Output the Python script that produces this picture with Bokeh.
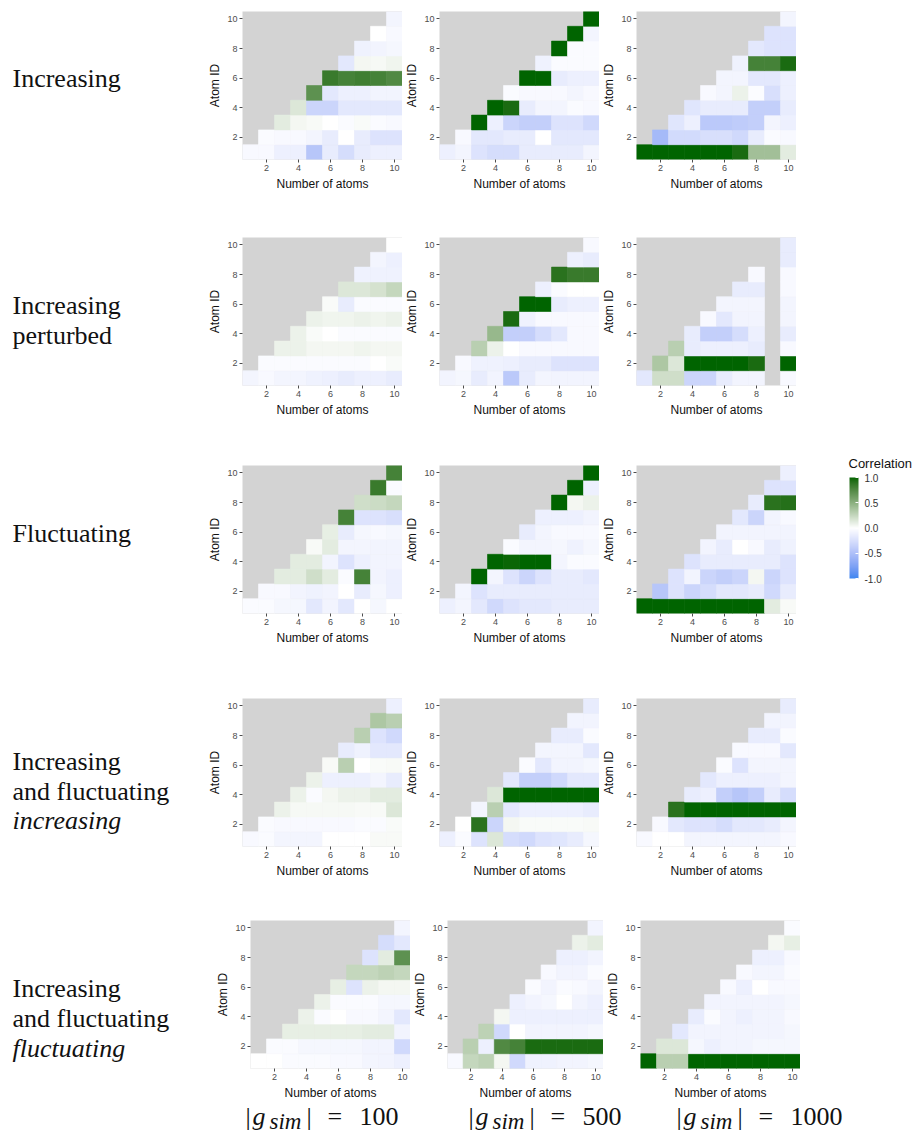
import numpy as np
from bokeh.plotting import figure
from bokeh.models import (Range1d, FixedTicker, LinearColorMapper, ColorBar,
                          PrintfTickFormatter, ColumnDataSource)
from bokeh.layouts import row, column
from bokeh.transform import transform
from bokeh.core.properties import value
from bokeh.embed import file_html
from bokeh.resources import INLINE

# ---------------- data ----------------
TICKS = [2, 4, 6, 8, 10]
X_LABEL = "Number of atoms"
Y_LABEL = "Atom ID"
SIM_SIZES = ["100", "500", "1000"]
ROW_TITLES = [
    [("Increasing", "normal")],
    [("Increasing", "normal"), ("perturbed", "normal")],
    [("Fluctuating", "normal")],
    [("Increasing", "normal"), ("and fluctuating", "normal"), ("increasing", "italic")],
    [("Increasing", "normal"), ("and fluctuating", "normal"), ("fluctuating", "italic")],
]
LEGEND_TITLE = "Correlation"
LEGEND_TICKS = [-1.0, -0.5, 0.0, 0.5, 1.0]

# each panel: list of rows, row k (Atom ID = k) holds values for Number of atoms = k..10
INC_100 = [
    [-0.05, -0.05, -0.12, -0.12, -0.45, -0.15, -0.27, -0.15, -0.12, -0.12],
    [-0.03, -0.05, -0.05, -0.08, -0.15, 0.00, -0.15, -0.22, -0.22],
    [0.12, 0.05, 0.03, 0.00, -0.03, 0.02, -0.03, -0.05],
    [0.15, -0.33, -0.33, -0.18, -0.18, -0.18, -0.18],
    [0.70, -0.18, -0.12, -0.12, -0.09, -0.09],
    [0.85, 0.80, 0.82, 0.80, 0.75],
    [-0.18, 0.05, 0.04, 0.06],
    [-0.10, -0.09, -0.06],
    [0.00, -0.05],
    [-0.08],
]
INC_500 = [
    [-0.12, -0.08, -0.22, -0.27, -0.27, -0.15, -0.15, -0.15, -0.15, -0.08],
    [-0.05, -0.18, -0.18, -0.15, -0.15, 0.00, -0.18, -0.18, -0.18],
    [1.00, -0.12, -0.33, -0.38, -0.38, -0.22, -0.22, -0.30],
    [1.00, 0.95, -0.15, -0.08, -0.08, -0.03, -0.05],
    [-0.03, -0.05, -0.05, -0.05, -0.08, -0.05],
    [1.00, 1.00, -0.15, -0.12, -0.12],
    [-0.10, -0.03, -0.03, -0.03],
    [1.00, -0.03, -0.03],
    [1.00, -0.08],
    [1.00],
]
INC_1000 = [
    [1.00, 1.00, 1.00, 1.00, 1.00, 1.00, 0.95, 0.40, 0.40, 0.12],
    [-0.55, -0.28, -0.28, -0.25, -0.25, -0.30, -0.15, -0.03, -0.05],
    [-0.20, -0.12, -0.42, -0.42, -0.40, -0.38, -0.08, -0.12],
    [-0.20, -0.15, -0.15, -0.15, -0.38, -0.38, -0.15],
    [-0.05, -0.08, 0.08, -0.02, -0.25, -0.12],
    [-0.08, -0.08, -0.18, -0.18, -0.12],
    [-0.10, 0.80, 0.80, 0.95],
    [-0.18, -0.22, -0.22],
    [-0.22, -0.22],
    [-0.08],
]
PERT_100 = [
    [-0.08, -0.05, -0.08, -0.08, -0.10, -0.12, -0.15, -0.12, -0.12, -0.15],
    [-0.03, -0.03, -0.03, -0.03, -0.03, -0.03, -0.03, 0.00, 0.02],
    [0.08, 0.08, 0.05, 0.05, 0.05, 0.06, 0.05, 0.05],
    [0.08, 0.02, 0.00, -0.03, -0.03, -0.03, -0.03],
    [0.08, 0.06, 0.06, 0.08, 0.06, 0.08],
    [0.02, -0.15, -0.03, -0.03, -0.03],
    [0.15, 0.15, 0.18, 0.25],
    [-0.10, -0.10, -0.10],
    [-0.08, -0.12],
    [0.00],
]
PERT_500 = [
    [-0.09, -0.06, -0.15, -0.09, -0.42, -0.15, -0.08, -0.09, -0.09, -0.09],
    [-0.05, -0.10, -0.10, -0.12, -0.15, -0.15, -0.22, -0.22, -0.22],
    [0.30, 0.08, 0.00, -0.05, -0.05, -0.05, -0.05, -0.05],
    [0.45, -0.38, -0.38, -0.27, -0.18, -0.05, -0.05],
    [0.95, -0.10, -0.05, -0.05, -0.05, -0.05],
    [1.00, 1.00, -0.15, -0.12, -0.12],
    [-0.12, -0.03, 0.00, 0.00],
    [0.90, 0.85, 0.85],
    [-0.12, -0.15],
    [-0.05],
]
PERT_1000 = [
    [-0.18, 0.20, 0.20, -0.33, -0.33, -0.15, -0.09, -0.09, None, -0.05],
    [0.35, 0.15, 1.00, 1.00, 1.00, 1.00, 0.95, None, 1.00],
    [0.30, -0.15, -0.12, -0.12, -0.12, -0.15, None, -0.05],
    [-0.15, -0.38, -0.38, -0.27, -0.12, None, -0.15],
    [-0.05, -0.18, -0.09, -0.09, None, -0.08],
    [-0.08, -0.08, -0.08, None, -0.08],
    [-0.15, -0.15, None, -0.05],
    [-0.05, None, -0.05],
    [None, -0.15],
    [-0.15],
]
FLUC_100 = [
    [-0.03, -0.03, -0.06, -0.06, -0.18, -0.09, -0.18, 0.00, -0.06, 0.00],
    [-0.05, -0.05, -0.09, -0.10, -0.09, 0.00, -0.15, -0.06, -0.12],
    [0.12, 0.12, 0.20, 0.12, -0.03, 0.80, -0.09, -0.12],
    [0.12, 0.12, -0.09, -0.22, -0.12, -0.09, -0.09],
    [0.03, 0.12, -0.08, -0.08, -0.09, -0.09],
    [0.10, -0.15, -0.06, -0.05, -0.06],
    [0.80, -0.22, -0.22, -0.25],
    [0.20, 0.22, 0.25],
    [0.85, -0.03],
    [0.80],
]
FLUC_500 = [
    [-0.12, -0.08, -0.18, -0.30, -0.22, -0.18, -0.18, -0.15, -0.15, -0.15],
    [-0.08, -0.22, -0.15, -0.15, -0.15, -0.15, -0.15, -0.15, -0.15],
    [1.00, -0.08, -0.22, -0.33, -0.22, -0.15, -0.15, -0.18],
    [1.00, 0.98, 1.00, 1.00, -0.08, -0.03, -0.03],
    [-0.03, -0.08, -0.08, -0.06, -0.10, -0.06],
    [-0.15, -0.08, -0.05, -0.05, -0.05],
    [-0.12, -0.12, -0.12, -0.09],
    [1.00, 0.05, 0.08],
    [1.00, -0.12],
    [1.00],
]
FLUC_1000 = [
    [1.00, 1.00, 1.00, 1.00, 1.00, 1.00, 1.00, 1.00, 0.12, 0.03],
    [-0.45, -0.22, -0.33, -0.27, -0.18, -0.18, -0.15, -0.30, -0.15],
    [-0.22, -0.09, -0.33, -0.38, -0.33, 0.05, -0.33, -0.22],
    [-0.22, -0.15, -0.15, -0.15, -0.15, -0.15, -0.22],
    [-0.09, -0.15, 0.00, -0.05, -0.15, -0.10],
    [-0.09, -0.09, -0.09, -0.09, -0.09],
    [-0.18, -0.33, -0.09, -0.05],
    [-0.15, 0.90, 0.92],
    [-0.22, -0.22],
    [-0.12],
]
IFI_100 = [
    [-0.05, -0.03, -0.08, -0.08, -0.08, 0.00, 0.00, 0.00, 0.03, 0.03],
    [-0.03, -0.05, -0.05, -0.05, -0.05, -0.05, -0.03, -0.03, 0.02],
    [0.08, 0.04, 0.04, 0.04, 0.04, 0.03, 0.03, 0.15],
    [0.08, -0.03, 0.05, 0.08, 0.08, 0.12, 0.12],
    [0.08, -0.12, -0.12, -0.12, -0.08, -0.15],
    [0.03, 0.30, 0.00, 0.02, 0.03],
    [-0.15, -0.10, -0.18, -0.18],
    [0.30, -0.22, -0.30],
    [0.35, 0.30],
    [-0.12],
]
IFI_500 = [
    [-0.12, -0.03, -0.22, 0.15, -0.27, -0.30, -0.22, -0.20, -0.15, -0.06],
    [0.00, 0.90, -0.33, 0.05, 0.02, 0.02, 0.02, 0.02, 0.03],
    [-0.08, 0.30, -0.18, -0.12, -0.12, -0.12, -0.12, -0.15],
    [0.15, 1.00, 1.00, 1.00, 1.00, 1.00, 1.00],
    [-0.18, -0.38, -0.38, -0.30, -0.18, -0.18],
    [-0.03, -0.18, -0.09, -0.09, -0.06],
    [-0.08, -0.08, -0.08, -0.18],
    [-0.15, -0.15, -0.03],
    [-0.09, -0.09],
    [-0.15],
]
IFI_1000 = [
    [-0.05, 0.00, 0.00, -0.08, -0.08, -0.08, -0.08, -0.08, -0.08, -0.05],
    [-0.05, -0.18, -0.22, -0.22, -0.27, -0.18, -0.18, -0.15, -0.08],
    [0.90, 1.00, 1.00, 1.00, 1.00, 1.00, 1.00, 1.00],
    [-0.15, -0.12, -0.38, -0.45, -0.38, -0.15, -0.27],
    [-0.18, -0.12, -0.12, -0.12, -0.12, -0.08],
    [-0.03, -0.22, -0.08, -0.08, -0.08],
    [-0.05, -0.05, -0.05, -0.18],
    [-0.15, -0.15, -0.03],
    [-0.09, -0.09],
    [-0.15],
]
IFF_100 = [
    [0.00, 0.00, -0.03, -0.03, -0.03, -0.05, -0.05, -0.08, -0.09, -0.12],
    [-0.03, -0.03, -0.06, -0.06, -0.06, -0.06, -0.09, -0.09, -0.30],
    [0.10, 0.10, 0.10, 0.10, 0.10, 0.12, 0.12, -0.09],
    [0.08, -0.03, 0.00, -0.05, -0.05, -0.08, -0.18],
    [0.08, -0.03, -0.03, -0.03, -0.06, -0.06],
    [0.10, -0.22, 0.08, 0.05, 0.05],
    [0.25, 0.25, 0.28, 0.25],
    [-0.22, 0.12, 0.70],
    [-0.27, -0.18],
    [-0.08],
]
IFF_500 = [
    [-0.05, 0.25, 0.28, 0.05, -0.30, -0.10, -0.10, -0.09, -0.09, -0.06],
    [0.30, -0.12, 0.75, 0.80, 0.95, 0.95, 0.95, 0.95, 0.95],
    [0.28, -0.30, 0.00, -0.09, -0.09, -0.09, -0.09, -0.06],
    [0.05, -0.12, -0.12, -0.12, -0.12, -0.12, -0.12],
    [-0.12, -0.09, -0.06, 0.00, -0.09, -0.12],
    [-0.03, -0.09, -0.03, -0.05, -0.08],
    [-0.05, -0.09, -0.09, -0.03],
    [-0.12, -0.12, -0.09],
    [0.08, 0.12],
    [-0.09],
]
IFF_1000 = [
    [1.00, 0.30, 0.30, 1.00, 1.00, 1.00, 1.00, 1.00, 1.00, 1.00],
    [0.15, 0.15, -0.06, -0.12, -0.09, -0.09, -0.06, -0.06, -0.06],
    [-0.18, -0.09, -0.09, -0.09, -0.09, -0.09, -0.09, -0.06],
    [-0.15, -0.03, -0.09, -0.12, -0.09, -0.09, -0.05],
    [-0.09, -0.09, -0.09, -0.09, -0.09, -0.06],
    [-0.05, -0.12, 0.00, -0.05, -0.05],
    [-0.05, -0.08, -0.08, -0.03],
    [-0.12, -0.12, -0.05],
    [0.05, 0.10],
    [-0.03],
]
PANELS = [
    [INC_100, INC_500, INC_1000],
    [PERT_100, PERT_500, PERT_1000],
    [FLUC_100, FLUC_500, FLUC_1000],
    [IFI_100, IFI_500, IFI_1000],
    [IFF_100, IFF_500, IFF_1000],
]

# ---------------- styling ----------------
LOW_COL, MID_COL, HIGH_COL = "#3d86f0", "#ffffff", "#006400"
NA_COL = "#d3d3d3"
SANS = "Liberation Sans"
SERIF = "Liberation Serif"
INK = "#111111"


def _hex_to_lab(h):
    h = h.lstrip("#")
    rgb = [int(h[i:i + 2], 16) / 255 for i in (0, 2, 4)]
    r, g, b = [c / 12.92 if c <= 0.04045 else ((c + 0.055) / 1.055) ** 2.4 for c in rgb]
    X = (0.4124564 * r + 0.3575761 * g + 0.1804375 * b) / 0.95047
    Y = (0.2126729 * r + 0.7151522 * g + 0.0721750 * b)
    Z = (0.0193339 * r + 0.1191920 * g + 0.9503041 * b) / 1.08883
    f = lambda t: t ** (1 / 3) if t > 0.008856 else 7.787 * t + 16 / 116
    fx, fy, fz = f(X), f(Y), f(Z)
    return (116 * fy - 16, 500 * (fx - fy), 200 * (fy - fz))


def _lab_to_hex(L, a, b):
    fy = (L + 16) / 116
    fx = fy + a / 500
    fz = fy - b / 200
    finv = lambda t: t ** 3 if t ** 3 > 0.008856 else (t - 16 / 116) / 7.787
    X, Y, Z = finv(fx) * 0.95047, finv(fy), finv(fz) * 1.08883
    r = 3.2404542 * X - 1.5371385 * Y - 0.4985314 * Z
    g = -0.9692660 * X + 1.8760108 * Y + 0.0415560 * Z
    bl = 0.0556434 * X - 0.2040259 * Y + 1.0572252 * Z

    def enc(c):
        c = max(0.0, min(1.0, c))
        c = 12.92 * c if c <= 0.0031308 else 1.055 * c ** (1 / 2.4) - 0.055
        return int(round(max(0.0, min(1.0, c)) * 255))
    return "#%02x%02x%02x" % (enc(r), enc(g), enc(bl))


lab_lo, lab_mid, lab_hi = _hex_to_lab(LOW_COL), _hex_to_lab(MID_COL), _hex_to_lab(HIGH_COL)
palette = []
for t in np.linspace(-1, 1, 255):
    end = lab_lo if t < 0 else lab_hi
    s = abs(t)
    palette.append(_lab_to_hex(*[m + (e - m) * s for m, e in zip(lab_mid, end)]))
mapper = LinearColorMapper(palette=palette, low=-1, high=1)

PAGE_H = 1134
FRAME_H = 148
ROW_TOPS = [11, 38, 40, 45, 34]
ROW_BOTTOMS = [40, 40, 40, 40, 35]
COL_LEFTS = [[37, 37, 37]] * 4 + [[45, 37, 37]]
COL_WIDTHS = [[160, 160, 160]] * 4 + [[160, 156, 160]]
LEFT_W = 205
MID_W = 595
LEG_W = 114


def make_panel(vals, left, fw, top, bottom):
    p = figure(frame_width=fw, frame_height=FRAME_H,
               x_range=Range1d(0.5, 10.5), y_range=Range1d(0.5, 10.5),
               output_backend="svg", toolbar_location=None, title=None,
               min_border_left=left, min_border_right=0,
               min_border_top=top, min_border_bottom=bottom,
               background_fill_color=NA_COL, outline_line_color=None,
               border_fill_color="white")
    p.grid.visible = False
    xs, ys, vs = [], [], []
    for k, rvals in enumerate(vals, start=1):
        for j, v in enumerate(rvals):
            if v is None:
                continue
            xs.append(k + j)
            ys.append(k)
            vs.append(v)
    src = ColumnDataSource(dict(x=xs, y=ys, v=vs))
    p.rect("x", "y", width=1, height=1, source=src,
           fill_color=transform("v", mapper), line_color=transform("v", mapper),
           line_width=0.6)
    p.xaxis.axis_label = X_LABEL
    p.yaxis.axis_label = Y_LABEL
    for ax in (p.xaxis[0], p.yaxis[0]):
        ax.ticker = FixedTicker(ticks=TICKS)
        ax.major_label_text_font = SANS
        ax.major_label_text_font_size = "9px"
        ax.major_label_text_color = "#4d4d4d"
        ax.axis_label_text_font = SANS
        ax.axis_label_text_font_size = "12px"
        ax.axis_label_text_font_style = "normal"
        ax.axis_label_text_color = INK
        ax.axis_line_color = None
        ax.major_tick_in = 0
        ax.major_tick_out = 3
        ax.major_tick_line_color = "#4d4d4d"
        ax.minor_tick_line_color = None
        ax.major_label_standoff = 2
    p.xaxis.axis_label_standoff = 3
    p.yaxis.axis_label_standoff = 2
    return p


def blank(width, height, x0, y0):
    f = figure(width=width, height=height,
               x_range=Range1d(x0, x0 + width), y_range=Range1d(y0 + height, y0),
               output_backend="svg", toolbar_location=None, title=None, min_border=0,
               x_axis_location=None, y_axis_location=None, outline_line_color=None)
    f.grid.visible = False
    return f


rows = []
for r in range(5):
    figs = [make_panel(PANELS[r][c], COL_LEFTS[r][c], COL_WIDTHS[r][c],
                       ROW_TOPS[r], ROW_BOTTOMS[r]) for c in range(3)]
    rows.append(row(*figs, spacing=0))
mid = column(*rows, spacing=0)

rows_h = sum(t + FRAME_H + b for t, b in zip(ROW_TOPS, ROW_BOTTOMS))

# left row titles (text_baseline "middle": y is the vertical centre)
lf = blank(LEFT_W, rows_h, 0, 0)
CENTERS = [[78], [305, 335], [533], [761, 791, 820], [988, 1018, 1048]]
for lines, cys in zip(ROW_TITLES, CENTERS):
    for (txt, style), yc in zip(lines, cys):
        lf.text(x=[12], y=[yc], text=[txt], text_font=value(SERIF), text_font_size="26px",
                text_font_style=style, text_baseline="middle", text_color=INK)

# legend
lgf = blank(LEG_W, rows_h, LEFT_W + MID_W, 0)
lgf.text(x=[848], y=[463], text=[LEGEND_TITLE], text_font=value(SANS),
         text_font_size="13px", text_baseline="middle", text_color=INK)
cb = ColorBar(color_mapper=mapper, ticker=FixedTicker(ticks=LEGEND_TICKS),
              formatter=PrintfTickFormatter(format="%.1f"),
              width=9, height=101, location=(49, rows_h - 578), title=None,
              major_label_text_font=SANS, major_label_text_font_size="10px",
              major_label_text_color="#333333", label_standoff=6,
              major_tick_line_color="white", major_tick_in=3, major_tick_out=0,
              minor_tick_line_color=None, bar_line_color=None,
              padding=0, margin=0, background_fill_color=None, border_line_color=None)
lgf.add_layout(cb, "center")

# bottom labels |g_sim| = N spanning the full width
full_w = LEFT_W + MID_W + LEG_W
bf = blank(full_w, PAGE_H - rows_h, 0, rows_h)
starts = [245, 468, 676]
for s, n in zip(starts, SIM_SIZES):
    bf.text(x=[s, s + 61, s + 82, s + 114], y=[1116] * 4, text=["|", "|", "=", n],
            text_font=value(SERIF), text_font_size="26px", text_baseline="middle",
            text_color=INK)
    bf.text(x=[s + 7], y=[1116], text=["g"], text_font=value(SERIF), text_font_size="26px",
            text_font_style="italic", text_baseline="middle", text_color=INK)
    bf.text(x=[s + 24], y=[1121], text=["sim"], text_font=value(SERIF), text_font_size="23px",
            text_font_style="italic", text_baseline="middle", text_color=INK)

layout = column(row(lf, mid, lgf, spacing=0), bf, spacing=0)
open("out.html", "w").write(file_html(layout, INLINE))
